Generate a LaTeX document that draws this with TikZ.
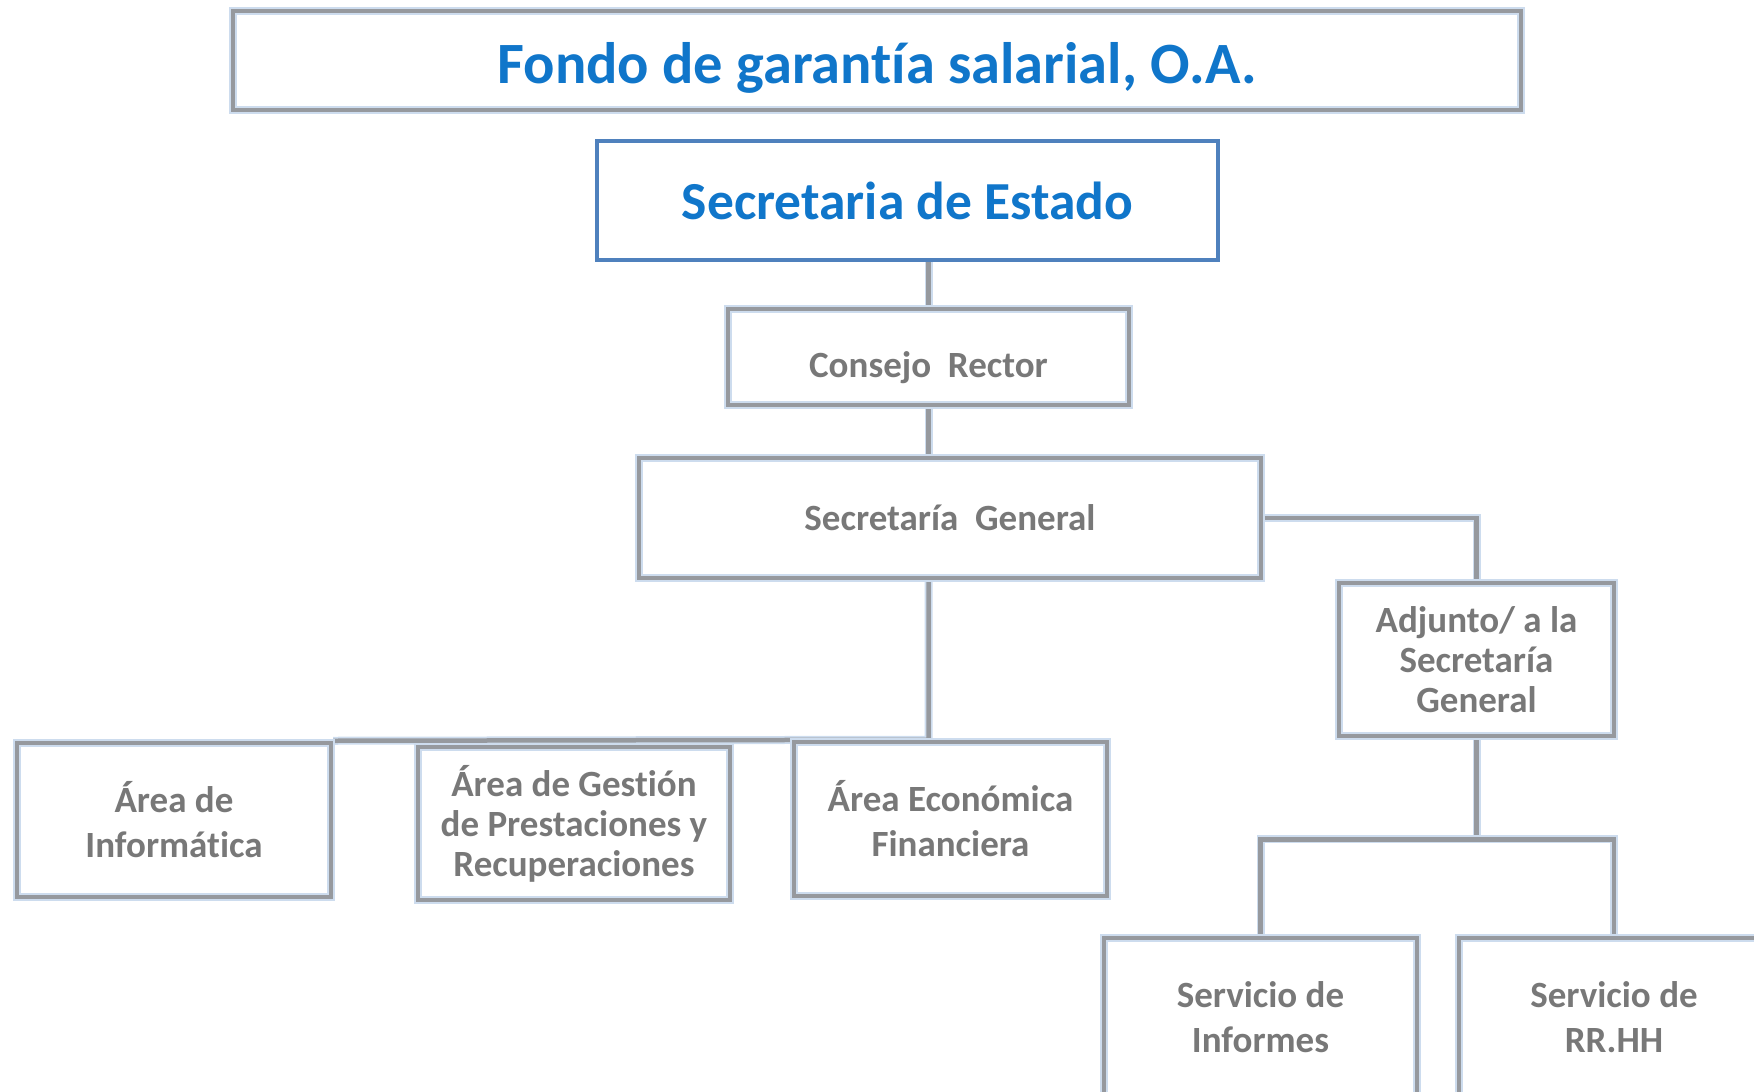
\documentclass[tikz,border=0pt]{standalone}
\usepackage{fontspec}
\setmainfont{Carlito}[Ligatures=NoCommon]
\usepackage{tikz}
\usetikzlibrary{positioning}
\usetikzlibrary{backgrounds}

\definecolor{titleblue}{RGB}{16,118,202}
\definecolor{estadoblue}{RGB}{79,129,189}
\definecolor{boxgray}{RGB}{150,153,158}
\definecolor{glowblue}{RGB}{205,220,238}
\definecolor{textgray}{RGB}{120,120,120}

\begin{document}
\begin{tikzpicture}[
            x=1pt, y=-1pt,
            every node/.style={align=center, inner sep=0pt},
            titlebox/.style={draw=boxgray, line width=4.5pt, preaction={draw=glowblue, line width=8pt},
                text=titleblue, font=\fontsize{58.5}{70}\selectfont\bfseries},
            estadobox/.style={draw=estadoblue, line width=3.5pt,
                text=titleblue, font=\fontsize{53.5}{64}\selectfont\bfseries},
            orgbox/.style={draw=boxgray, line width=4.5pt, preaction={draw=glowblue, line width=8pt},
                text=textgray, font=\fontsize{37}{40}\selectfont\bfseries,
                minimum width=313pt, minimum height=154pt},
            widespaced/.style={font=\fontsize{37}{45}\selectfont\bfseries},
            link/.style={draw=boxgray, line width=4.5pt, preaction={draw=glowblue, line width=8pt}}
        ]
            \useasboundingbox (0,0) rectangle (1754,1092);
            \node [titlebox, minimum width=1288pt, minimum height=99pt, text height=45pt, text depth=0pt] (fondo) at (877,60.5) {Fondo de garantía salarial, O.A.};
            \node [estadobox, minimum width=621pt, minimum height=119pt] (estado) at (907.5,200.5) {Secretaria de Estado};
            \node [orgbox, minimum width=401pt, minimum height=96pt] (consejo) at (928.5,357) {\raisebox{-20pt}[0pt][0pt]{Consejo\ \ Rector}};
            \node [orgbox, minimum width=622pt, minimum height=120pt] (general) at (950,518) {Secretaría\ \ General};
            \node [orgbox, minimum width=275pt, minimum height=153pt] (adjunto) at (1476.5,659.5) {Adjunto/ a la\\Secretaría\\General};
            \node [orgbox, widespaced, minimum width=314pt] (informatica) at (174,820) {Área de\\Informática};
            \node [orgbox, minimum width=312pt, minimum height=153pt] (gestion) at (574,823.5) {Área de Gestión\\de Prestaciones y\\Recuperaciones};
            \node [orgbox, widespaced] (economica) at (950.5,819) {Área Económica\\Financiera};
            \node [orgbox, widespaced, minimum height=158pt] (informes) at (1260.5,1017) {Servicio de\\Informes};
            \node [orgbox, widespaced, minimum width=310pt, minimum height=158pt] (rrhh) at (1614,1017) {Servicio de\\RR.HH};
            \begin{scope}[on background layer]
                \draw [link] (consejo.north |- estado.south) -- (consejo.north);
                \draw [link] (consejo.south) -- (consejo.south |- general.north);
                \draw [link] (consejo.south |- general.south) -- (consejo.south |- economica.north) -- (informatica.north east);
                \draw [link] (general.east) -| (adjunto.north);
                \draw [link] (adjunto.south) -- ++(0,101) coordinate (split);
                \draw [link] (informes.north) |- (split) -| (rrhh.north);
            \end{scope}
        \end{tikzpicture}
\end{document}
